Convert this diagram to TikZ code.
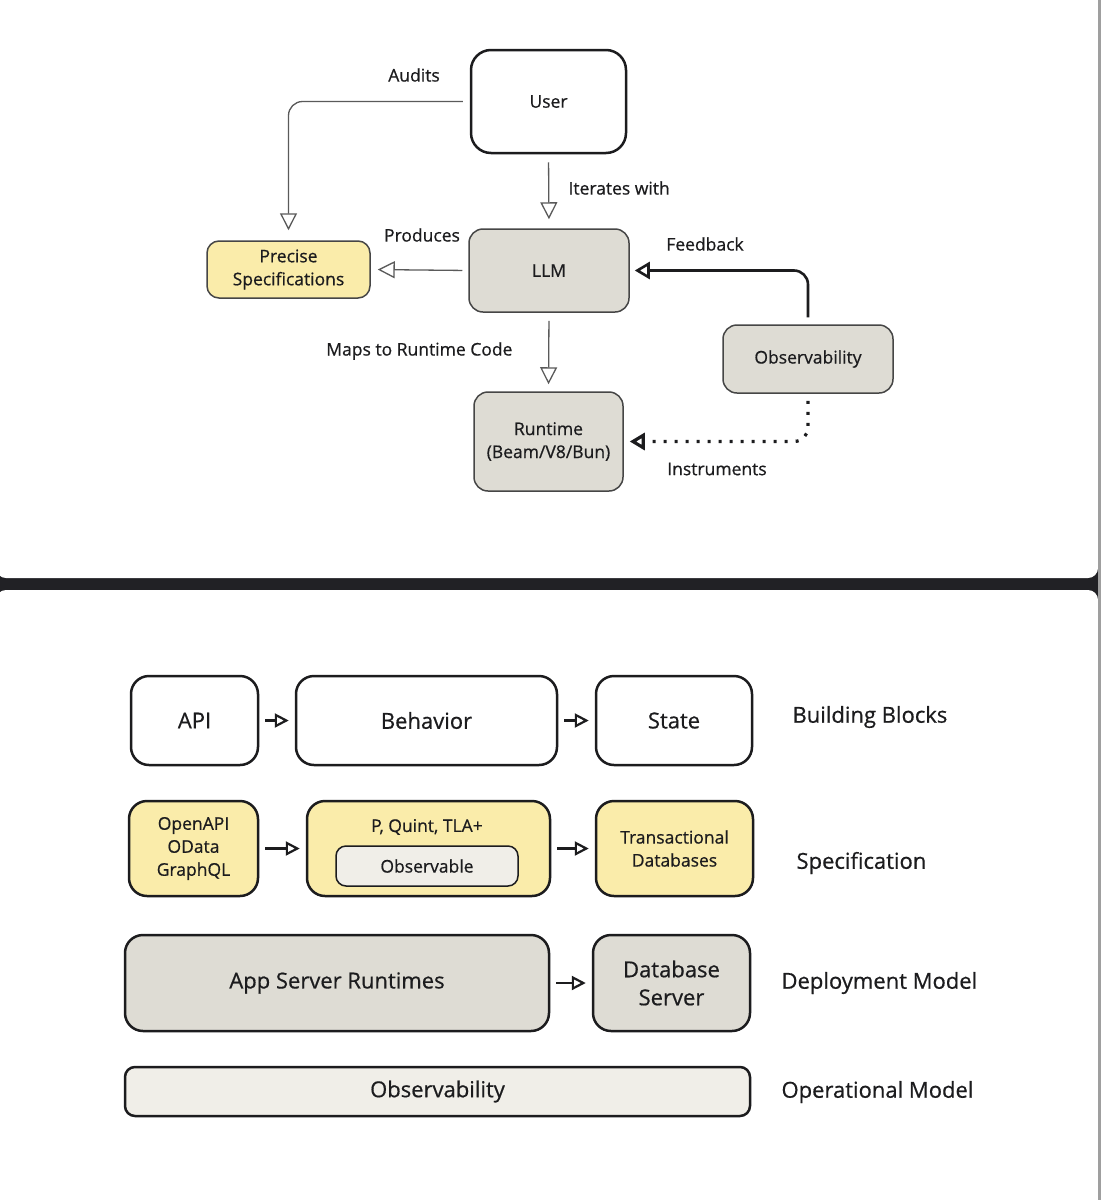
\documentclass[tikz,border=0pt]{standalone}
\usepackage{fontspec}
\setmainfont{Open Sans}[UprightFeatures={FakeBold=0.6}]
\usetikzlibrary{arrows.meta}
\definecolor{ink}{RGB}{28,28,30}
\definecolor{edgegray}{RGB}{70,70,70}
\definecolor{wiregray}{RGB}{90,90,90}
\definecolor{specyellow}{RGB}{250,236,170}
\definecolor{rungray}{RGB}{222,220,212}
\definecolor{obsgray}{RGB}{240,238,232}
\definecolor{band}{RGB}{33,33,37}
\def\tsz{\fontsize{17.5}{23}\selectfont}
\def\bsz{\fontsize{22}{28}\selectfont}

\begin{document}
\begin{tikzpicture}[x=1pt,y=-1pt, font=\tsz, text=ink,
   flowbox/.style={draw=edgegray, line width=1.5pt, rounded corners=14pt, align=center, inner sep=0pt},
   layerbox/.style={draw=ink, line width=2.5pt, rounded corners=18pt, align=center, inner sep=0pt},
   thinarrow/.style={draw=wiregray, line width=1.3pt, rounded corners=14pt, -{Triangle[open, length=17pt, width=17pt]}},
   boldarrow/.style={draw=ink, line width=2.6pt, rounded corners=14pt, -{Triangle[open, length=15pt, width=17pt]}},
   stepto/.style={draw=ink, line width=2.2pt, -{Triangle[open, length=14pt, width=14pt]}, shorten <=6pt, shorten >=6pt}]
\useasboundingbox (0,0) rectangle (1101,1200);
% panels
\fill[band] (0,0) rectangle (1101,1200);
\fill[white, rounded corners=10pt] (-4,-20) rectangle (1098,578);
\fill[white, rounded corners=10pt] (-4,590) rectangle (1098,1220);
\fill[gray!75] (1098,0) rectangle (1100.5,1200);
%
% top diagram
       \node [layerbox, fill=white, rounded corners=20pt, minimum width=155pt, minimum height=103pt] at (548.5,101.5) (user) {User};
       \node [flowbox, fill=rungray, minimum width=160pt, minimum height=83pt] at (549,270.5) (llm) {LLM};
       \node [flowbox, fill=specyellow, rounded corners=12pt, minimum width=163pt, minimum height=57pt] at (288.5,269.5) (spec) {Precise\\Specifications};
       \node [flowbox, fill=rungray, minimum width=170pt, minimum height=68pt] at (808,359) (obs) {Observability};
       \node [flowbox, fill=rungray, minimum width=149pt, minimum height=99pt] at (548.5,441.5) (runtime) {Runtime\\(Beam/V8/Bun)};
%
       \node at (414,75) (audits) {Audits};
       \node [anchor=west] at (565,188) (iterates) {Iterates with};
       \node at (422,235) (produces) {Produces};
       \node [anchor=east] at (516,351) (maps) {Maps to Runtime Code};
       \node at (705,244) (feedback) {Feedback};
       \node at (717,469) (instruments) {Instruments};
%
\draw[thinarrow, shorten <=7pt, shorten >=10pt] (user.west) -| (spec.north);
\draw[thinarrow, shorten <=8pt, shorten >=9pt] (user.south) -- (llm.north);
\draw[thinarrow, shorten <=6pt, shorten >=7pt] (llm.west) -- (spec.east);
\draw[thinarrow, shorten <=8pt, shorten >=7pt] (llm.south) -- (runtime.north);
\draw[boldarrow, shorten <=7pt, shorten >=5pt] (obs.north) |- (llm.east);
\draw[boldarrow, line width=3.2pt, dash pattern=on 3pt off 8pt, shorten <=7pt, shorten >=6pt] (obs.south) |- (runtime.east);
%
% bottom diagram
       \node [layerbox, fill=white, font=\bsz, minimum width=127pt, minimum height=89pt] at (194.5,720.5) (api) {API};
       \node [layerbox, fill=white, font=\bsz, minimum width=261pt, minimum height=89pt] at (426.5,720.5) (behavior) {Behavior};
       \node [layerbox, fill=white, font=\bsz, minimum width=156pt, minimum height=89pt] at (674,720.5) (state) {State};
%
       \node [layerbox, fill=specyellow, minimum width=129pt, minimum height=95pt] at (193.5,848.5) (openapi) {OpenAPI\\OData\\GraphQL};
       \node [layerbox, fill=specyellow, minimum width=243pt, minimum height=95pt] at (428.5,848.5) (pquint) {};
       \node at (427,827) (pquint title) {P, Quint, TLA+};
       \node [flowbox, draw=ink, fill=obsgray, rounded corners=10pt, minimum width=182pt, minimum height=40pt] at (427,866) (observable) {Observable};
       \node [layerbox, fill=specyellow, minimum width=157pt, minimum height=95pt] at (674.5,848.5) (txdb) {Transactional\\Databases};
%
       \node [layerbox, fill=rungray, font=\bsz, minimum width=424pt, minimum height=96pt] at (337,983) (appserver) {App Server Runtimes};
       \node [layerbox, fill=rungray, font=\bsz, minimum width=157pt, minimum height=96pt] at (671.5,983) (dbserver) {Database\\Server};
%
       \node [layerbox, fill=obsgray, font=\bsz, rounded corners=10pt, minimum width=625pt, minimum height=49pt] at (437.5,1091.5) (opobs) {Observability};
%
       \node [anchor=west, font=\bsz] at (789,717) (blocks) {Building Blocks};
       \node [anchor=west, font=\bsz] at (793,863) (specification) {Specification};
       \node [anchor=west, font=\bsz] at (778,983) (deployment) {Deployment Model};
       \node [anchor=west, font=\bsz] at (778,1092) (operational) {Operational Model};
%
\draw[stepto] (api) -- (behavior);
\draw[stepto] (behavior) -- (state);
\draw[stepto] (openapi.east) -- (pquint.west);
\draw[stepto] (pquint.east) -- (txdb.west);
\draw[stepto] (appserver.east) -- (dbserver.west);

\end{tikzpicture}
\end{document}
